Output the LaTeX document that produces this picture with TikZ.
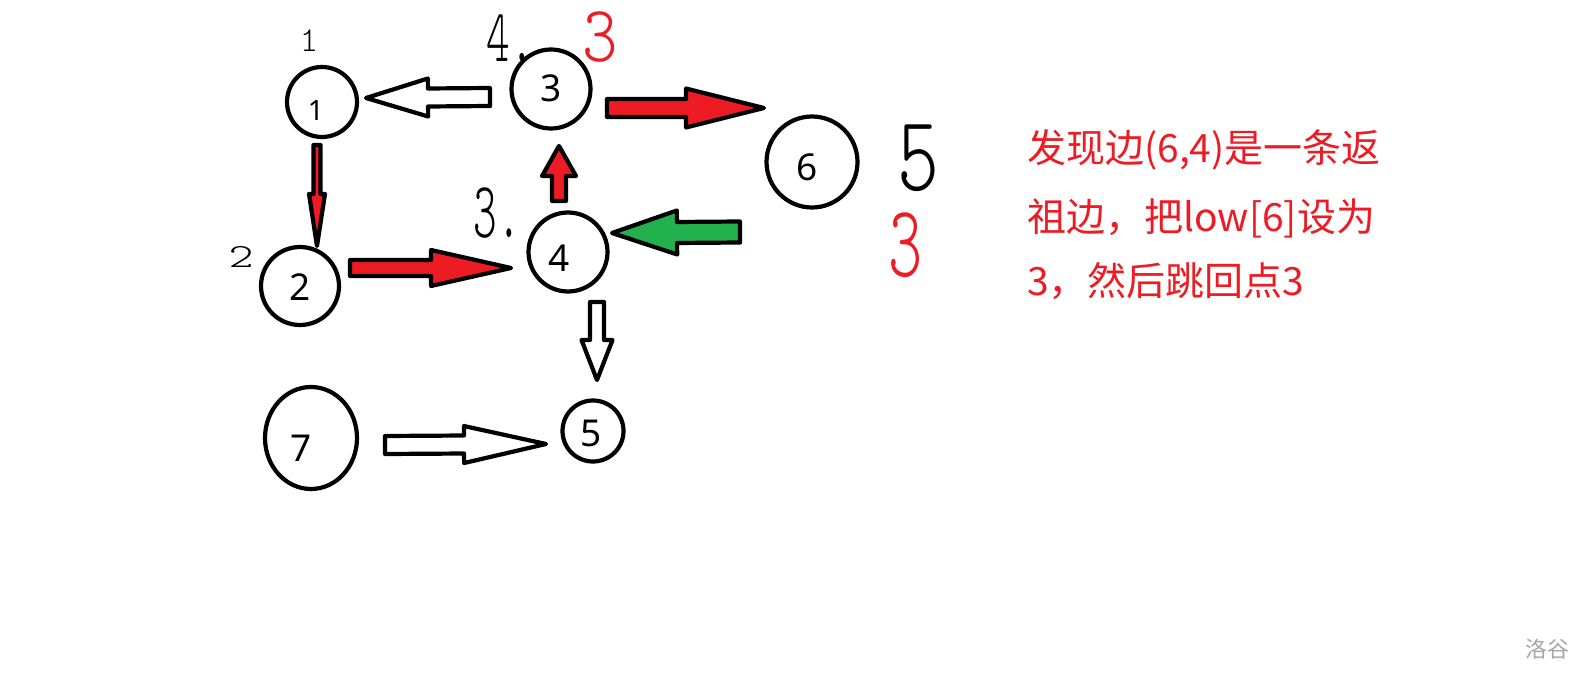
\documentclass[tikz,border=0pt]{standalone}
\usepackage{fontspec}
\setmainfont{Noto Sans}
\newfontfamily\cjk{Noto Sans CJK SC}
\newfontfamily\hand{lmmonolt10-regular.otf}
\usetikzlibrary{calc,shapes.geometric}
\definecolor{pred}{HTML}{ED1C24}
\definecolor{pgreen}{HTML}{22B14C}
\definecolor{wmgray}{HTML}{A6A6A6}
\tikzset{
  vtx/.style={circle, draw=black, line width=4.2pt, inner sep=0pt, outer sep=0pt},
  vtxel/.style={ellipse, draw=black, line width=4.2pt, inner sep=0pt, outer sep=0pt},
  dig/.style={inner sep=0pt, font=\fontsize{37}{37}\selectfont},
  blk/.style={draw=black, line width=4.2pt, line join=round},
  scrib/.style={inner sep=0pt},
  note/.style={anchor=base west, inner sep=0pt, text=pred, font=\cjk\fontsize{39}{39}\selectfont},
}
% #1 tail, #2 tip, #3 body half width, #4 head half width, #5 head length, #6 fill
\newcommand\barrow[6]{%
  \draw[blk, fill=#6]
    ($(#1)!#3!90:(#2)$) --
    ($($(#2)!#5!(#1)$)!#3!90:(#2)$) --
    ($($(#2)!#5!(#1)$)!#4!90:(#2)$) --
    (#2) --
    ($($(#2)!#5!(#1)$)!#4!-90:(#2)$) --
    ($($(#2)!#5!(#1)$)!#3!-90:(#2)$) --
    ($(#1)!#3!-90:(#2)$) -- cycle;}
\begin{document}
\begin{tikzpicture}[x=1pt,y=-1pt]
\useasboundingbox (0,0) rectangle (1594,684);
\fill[white] (0,0) rectangle (1594,684);

% vertices
\node[vtx, minimum size=70pt, label={[dig,font=\fontsize{28}{28}\selectfont,xshift=-6pt,yshift=-9pt]center:1}] (n1) at (322,102) {};
\node[vtx, minimum size=78pt, label={[dig,yshift=-1pt]center:2}] (n2) at (300,286) {};
\node[vtx, minimum size=79pt, label={[dig,yshift=1pt]center:3}] (n3) at (551,89) {};
\node[vtx, minimum size=79pt, label={[dig,xshift=-9pt,yshift=-6pt]center:4}] (n4) at (568,252) {};
\node[vtx, minimum size=61pt, label={[dig,xshift=-2pt,yshift=-2pt]center:5}] (n5) at (593,431) {};
\node[vtx, minimum size=91pt, label={[dig,xshift=-5pt,yshift=-5pt]center:6}] (n6) at (812,162) {};
\node[vtxel, minimum width=92pt, minimum height=102pt, label={[dig,xshift=-10pt,yshift=-10pt]center:7}] (n7) at (311,438) {};

% arrow ends
\coordinate (a31t) at (490,97);  \coordinate (a31h) at (366,98);
\coordinate (a12t) at (317,145); \coordinate (a12h) at (317,246);
\coordinate (a24t) at (350,268); \coordinate (a24h) at (511,268);
\coordinate (a43t) at (559,201); \coordinate (a43h) at (559,146);
\coordinate (a36t) at (607,108); \coordinate (a36h) at (764,108);
\coordinate (a64t) at (740,232); \coordinate (a64h) at (612,233);
\coordinate (a45t) at (597,302); \coordinate (a45h) at (597,380);
\coordinate (a75t) at (385,445); \coordinate (a75h) at (546,444);

\barrow{a31t}{a31h}{9pt}{19pt}{62pt}{white}
\barrow{a12t}{a12h}{3.5pt}{8pt}{52pt}{pred}
\barrow{a24t}{a24h}{8pt}{18pt}{80pt}{pred}
\barrow{a43t}{a43h}{7pt}{17pt}{30pt}{pred}
\barrow{a36t}{a36h}{9pt}{19.5pt}{78pt}{pred}
\barrow{a64t}{a64h}{10.5pt}{22pt}{65pt}{pgreen}
\barrow{a45t}{a45h}{7pt}{15.5pt}{40pt}{white}
\barrow{a75t}{a75h}{9pt}{18.5pt}{82pt}{white}

% handwritten marks
\node[scrib, font=\hand\fontsize{35}{35}\selectfont] (h1) at (309,41) {1};
\node[scrib, font=\hand\fontsize{50}{50}\selectfont] (h4) at (510,38) {\scalebox{0.9}[1.5]{4.}};
\node[scrib, text=pred, font=\hand\fontsize{50}{50}\selectfont] (h3r) at (600,37) {\scalebox{1.35}[1.6]{3}};
\node[scrib, font=\hand\fontsize{34}{34}\selectfont] (h2) at (241,257) {\scalebox{1.4}[1]{2}};
\node[scrib, font=\hand\fontsize{50}{50}\selectfont] (h3) at (497,213) {\scalebox{0.9}[1.6]{3.}};
\node[scrib, font=\hand\fontsize{50}{50}\selectfont] (h5) at (918,158) {\scalebox{1.6}[2.15]{5}};
\node[scrib, text=pred, font=\hand\fontsize{50}{50}\selectfont] (h3b) at (906,245) {\scalebox{1.3}[2.05]{3}};

% note
\node[note] (t1) at (1027,163) {发现边(6,4)是一条返};
\node[note] (t2) at (1027,232) {祖边，把low[6]设为};
\node[note] (t3) at (1027,296) {3，然后跳回点3};

% watermark
\node[text=wmgray, inner sep=0pt, font=\cjk\fontsize{22}{22}\selectfont] (wm) at (1547,649) {洛谷};
\end{tikzpicture}
\end{document}
